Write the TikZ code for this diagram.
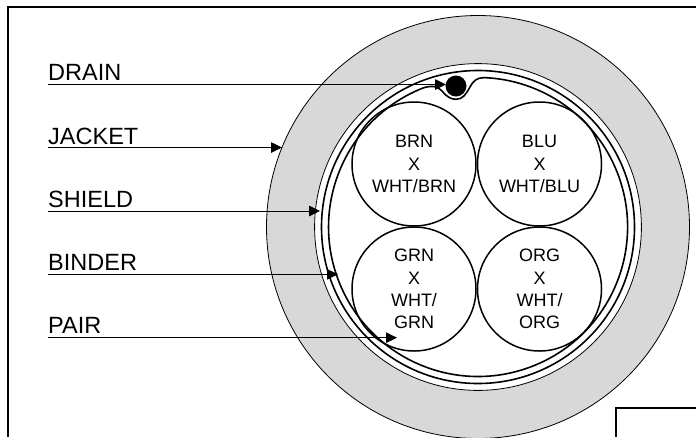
\documentclass[tikz,border=0pt]{standalone}
\usepackage{fontspec}
\setmainfont{Liberation Sans}
\usetikzlibrary{arrows.meta}
\definecolor{jacketgray}{HTML}{D8D8D8}
\tikzset{
  x=1pt,y=-1pt,
  ring/.style={circle,draw=black,inner sep=0pt,outer sep=0pt},
  thinring/.style={ring,line width=0.8pt},
  thickring/.style={ring,line width=1.6pt},
  pairwire/.style={ring,line width=1.5pt,minimum size=124pt,align=center,font=\fontsize{18}{22.3}\selectfont},
  calllabel/.style={anchor=base west,inner sep=0pt,font=\fontsize{23.5}{26}\selectfont},
  leader/.style={line width=0.9pt,-{Triangle[length=11pt,width=10.5pt]}},
  frameline/.style={line width=2pt,line cap=butt}
}
\begin{document}
\begin{tikzpicture}
\useasboundingbox (0,0) rectangle (696,437);
\clip (0,0) rectangle (696,437);
\fill[white] (0,0) rectangle (696,437);
% frame
\coordinate (fa) at (8,437);
\coordinate (fb) at (8,7);
\coordinate (fc) at (696,7);
\draw[frameline] (fa) -- (fb) -- (fc);
% jacket and shield
\node[thinring,fill=jacketgray,minimum size=423pt] (jacket) at (478,227) {};
\node[thinring,fill=white,minimum size=326.8pt] (shield) at (478,227) {};
\node[thickring,minimum size=313pt] (binder) at (478,227) {};
% inner ring dipping round the drain wire
\draw[line width=1.6pt]
  (424,87.6) arc[start angle=-111.2,end angle=-448,radius=149.5];
\draw[line width=1.6pt]
  (424,87.6) .. controls (434,85) and (438,87) .. (442,91)
  .. controls (447,97) and (451,99.3) .. (456,99.3)
  .. controls (463,99.3) and (466,94) .. (470,87)
  .. controls (473,81) and (477,77.6) .. (484,77.6);
% pairs
\node[pairwire] (brn) at (414,164) {BRN\\X\\WHT/BRN};
\node[pairwire] (blu) at (539.5,164) {BLU\\X\\WHT/BLU};
\node[pairwire] (grn) at (414,289) {GRN\\X\\WHT/\\GRN};
\node[pairwire] (org) at (539.5,289) {ORG\\X\\WHT/\\ORG};
% drain
\node[circle,fill=black,inner sep=0pt,minimum size=21pt] (drain) at (456,86) {};
% labels
\node[calllabel] (ldrain) at (48,80) {DRAIN};
\node[calllabel] (ljacket) at (48,144) {JACKET};
\node[calllabel] (lshield) at (48,207) {SHIELD};
\node[calllabel] (lbinder) at (48,270) {BINDER};
\node[calllabel] (lpair) at (48,333) {PAIR};
\coordinate (sdrain) at (48,84.5);
\coordinate (sjacket) at (48,147.5);
\coordinate (sshield) at (48,211);
\coordinate (sbinder) at (48,274.3);
\coordinate (spair) at (48,337.7);
\coordinate (tdrain) at (446,84.5);
\coordinate (tjacket) at (282,147.5);
\coordinate (tshield) at (320,211);
\coordinate (tbinder) at (338,274.3);
\coordinate (tpair) at (397,337.7);
\draw[leader] (sdrain) -- (tdrain);
\draw[leader] (sjacket) -- (tjacket);
\draw[leader] (sshield) -- (tshield);
\draw[leader] (sbinder) -- (tbinder);
\draw[leader] (spair) -- (tpair);
% title block corner
\coordinate (ba) at (616,437);
\coordinate (bb) at (616,408);
\coordinate (bc) at (696,408);
\draw[frameline] (ba) -- (bb) -- (bc);
\end{tikzpicture}
\end{document}
